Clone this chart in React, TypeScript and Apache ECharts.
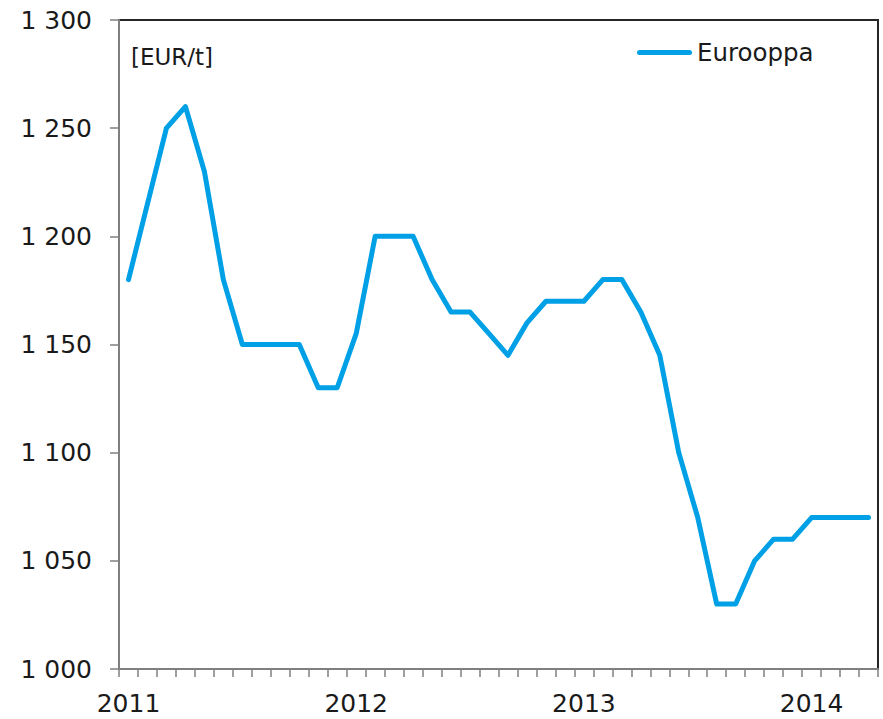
import React, { useEffect, useRef } from "react";
import * as echarts from "echarts";

const months: string[] = [
  "2011-01", "2011-02", "2011-03", "2011-04", "2011-05", "2011-06", "2011-07", "2011-08", "2011-09", "2011-10", "2011-11", "2011-12",
  "2012-01", "2012-02", "2012-03", "2012-04", "2012-05", "2012-06", "2012-07", "2012-08", "2012-09", "2012-10", "2012-11", "2012-12",
  "2013-01", "2013-02", "2013-03", "2013-04", "2013-05", "2013-06", "2013-07", "2013-08", "2013-09", "2013-10", "2013-11", "2013-12",
  "2014-01", "2014-02", "2014-03", "2014-04",
];

const europe: number[] = [
  1180, 1215, 1250, 1260, 1230, 1180, 1150, 1150, 1150, 1150, 1130, 1130,
  1155, 1200, 1200, 1200, 1180, 1165, 1165, 1155, 1145, 1160, 1170, 1170,
  1170, 1180, 1180, 1165, 1145, 1100, 1070, 1030, 1030, 1050, 1060, 1060,
  1070, 1070, 1070, 1070,
];

const seriesName = "Eurooppa";
const unitLabel = "[EUR/t]";
const yMin = 1000;
const yMax = 1300;
const yStep = 50;

const FONT = "'DejaVu Sans', Verdana, sans-serif";
const TEXT = "#1a1a1a";
const AXIS = "#7f7f7f";
const LINE = "#00A0E6";

export default function App() {
  const ref = useRef<HTMLDivElement>(null);
  useEffect(() => {
    if (!ref.current) return;
    const chart = echarts.init(ref.current, undefined, { renderer: "svg" });
    chart.setOption({
      animation: false,
      backgroundColor: "#ffffff",
      textStyle: { fontFamily: FONT },
      grid: {
        left: 119,
        top: 20,
        right: 5,
        bottom: 50,
        show: true,
        borderColor: "#262626",
        borderWidth: 2,
        backgroundColor: "transparent",
      },
      legend: {
        left: 637,
        top: 40,
        padding: 0,
        itemWidth: 55,
        itemHeight: 5,
        data: [
          {
            name: seriesName,
            icon: "path://M2.5,0 H52.5 A2.5,2.5 0 0 1 52.5,5 H2.5 A2.5,2.5 0 0 1 2.5,0 Z",
            itemStyle: { color: LINE },
          },
        ],
        textStyle: { fontSize: 24.5, color: TEXT, fontFamily: FONT },
      },
      graphic: [
        {
          type: "text",
          left: 131,
          top: 45,
          style: { text: unitLabel, fontSize: 23, fill: TEXT, fontFamily: FONT },
        },
      ],
      xAxis: {
        type: "category",
        data: months,
        boundaryGap: true,
        axisLine: { show: true, lineStyle: { color: AXIS, width: 2 } },
        axisTick: { show: true, interval: 0, length: 8, lineStyle: { color: AXIS, width: 1.5 } },
        axisLabel: {
          interval: (i: number) => i % 12 === 0,
          formatter: (v: string) => v.slice(0, 4),
          fontSize: 25,
          color: TEXT,
          margin: 22,
          fontFamily: FONT,
        },
        splitLine: { show: false },
      },
      yAxis: {
        type: "value",
        min: yMin,
        max: yMax,
        interval: yStep,
        axisLine: { show: true, lineStyle: { color: AXIS, width: 2 } },
        axisTick: { show: true, length: 9, lineStyle: { color: AXIS, width: 1.5 } },
        axisLabel: {
          formatter: (v: number) => `${Math.floor(v / 1000)} ${String(v % 1000).padStart(3, "0")}`,
          fontSize: 25,
          color: TEXT,
          margin: 27,
          fontFamily: FONT,
        },
        splitLine: { show: false },
      },
      series: [
        {
          name: seriesName,
          type: "line",
          data: europe,
          symbol: "none",
          color: LINE,
          lineStyle: { width: 5, color: LINE, cap: "round", join: "round" },
        },
      ],
    });
    return () => chart.dispose();
  }, []);
  return (
    <div
      ref={ref}
      style={{ position: "fixed", left: 0, top: 0, width: 883, height: 719, background: "#fff" }}
    />
  );
}
